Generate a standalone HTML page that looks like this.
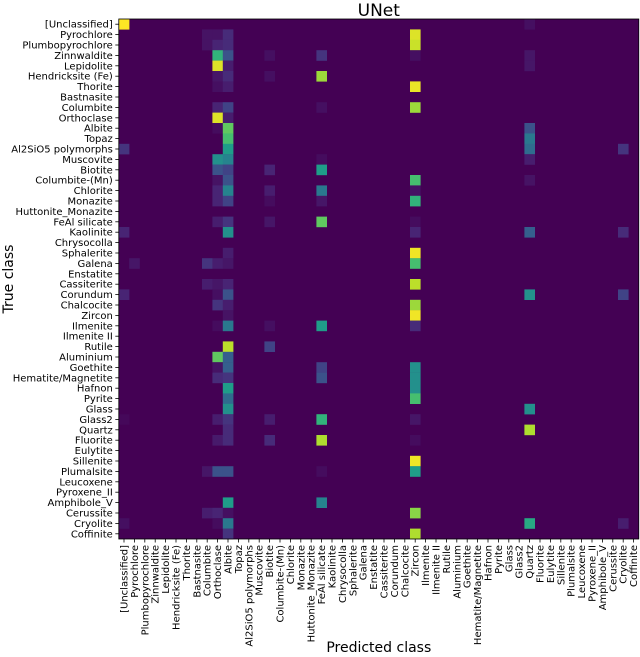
<!DOCTYPE html>
<html><head><meta charset="utf-8"><style>
body{margin:0;background:#fff;width:640px;height:657px;overflow:hidden}
svg{display:block;font-family:"DejaVu Sans","Liberation Sans",sans-serif}
</style></head><body>
<svg id="c" width="640" height="657" xmlns="http://www.w3.org/2000/svg"></svg>
<script>
const classes=["[Unclassified]","Pyrochlore","Plumbopyrochlore","Zinnwaldite","Lepidolite","Hendricksite (Fe)","Thorite","Bastnasite","Columbite","Orthoclase","Albite","Topaz","Al2SiO5 polymorphs","Muscovite","Biotite","Columbite-(Mn)","Chlorite","Monazite","Huttonite_Monazite","FeAl silicate","Kaolinite","Chrysocolla","Sphalerite","Galena","Enstatite","Cassiterite","Corundum","Chalcocite","Zircon","Ilmenite","Ilmenite II","Rutile","Aluminium","Goethite","Hematite/Magnetite","Hafnon","Pyrite","Glass","Glass2","Quartz","Fluorite","Eulytite","Sillenite","Plumalsite","Leucoxene","Pyroxene_II","Amphibole_V","Cerussite","Cryolite","Coffinite"];
// sparse cells: [trueRow, predCol, value 0..1]
const cellRows=[0,1,1,1,1,0,2,2,2,2,3,3,3,3,3,3,4,4,4,5,5,5,5,6,6,6,8,8,8,8,9,9,10,10,10,11,11,12,12,12,12,13,13,13,13,14,14,14,14,15,15,15,15,16,16,16,16,16,17,17,17,17,17,19,19,19,19,19,20,20,20,20,20,22,22,23,23,23,23,23,25,25,25,25,26,26,26,26,26,27,27,27,28,28,29,29,29,29,29,31,31,32,32,33,33,33,33,34,34,34,34,35,35,36,36,37,37,38,38,38,38,38,38,39,39,40,40,40,40,40,42,43,43,43,43,43,46,46,47,47,47,47,48,48,48,48,48,49,49];
const cellCols=[0,8,9,10,28,39,8,9,10,28,9,10,14,19,28,39,9,10,39,9,10,14,19,9,10,28,9,10,19,28,9,10,9,10,39,10,39,0,10,39,48,9,10,19,39,9,10,14,19,9,10,28,39,9,10,14,19,28,9,10,14,19,28,9,10,14,19,28,0,10,28,39,48,10,28,1,8,9,10,28,8,9,10,28,0,9,10,39,48,9,10,28,10,28,9,10,14,19,28,10,14,9,10,9,10,19,28,9,10,19,28,10,28,10,28,10,39,0,9,10,14,19,28,10,39,9,10,14,19,28,28,8,9,10,19,28,10,19,8,9,10,28,0,9,10,39,48,10,28];
const cellVals=[1.0,0.05,0.05,0.12,0.95,0.04,0.05,0.1,0.12,0.92,0.65,0.25,0.04,0.15,0.04,0.06,0.95,0.08,0.06,0.06,0.12,0.04,0.85,0.04,0.08,0.97,0.1,0.2,0.04,0.85,0.95,0.08,0.03,0.75,0.25,0.7,0.4,0.15,0.55,0.35,0.15,0.5,0.45,0.03,0.08,0.25,0.2,0.1,0.55,0.05,0.25,0.7,0.05,0.1,0.45,0.08,0.4,0.05,0.1,0.2,0.03,0.06,0.65,0.08,0.15,0.06,0.75,0.03,0.1,0.5,0.1,0.3,0.12,0.08,0.98,0.06,0.15,0.08,0.06,0.7,0.08,0.06,0.1,0.9,0.1,0.04,0.25,0.5,0.2,0.15,0.08,0.85,0.05,0.98,0.03,0.4,0.04,0.55,0.12,0.9,0.2,0.75,0.3,0.05,0.3,0.2,0.5,0.12,0.15,0.25,0.5,0.55,0.5,0.35,0.7,0.5,0.5,0.02,0.08,0.15,0.08,0.65,0.06,0.12,0.88,0.07,0.12,0.12,0.88,0.03,0.98,0.06,0.25,0.25,0.03,0.55,0.55,0.45,0.08,0.1,0.04,0.82,0.04,0.03,0.4,0.6,0.08,0.15,0.88];

const NS="http://www.w3.org/2000/svg",svg=document.getElementById('c');
const L=118.8,T=19,S=10.4,N=classes.length;
const xPos=c=>L+c*S, yPos=r=>T+r*S;
const stops=[[68,1,84],[72,40,120],[62,74,137],[49,104,142],[38,130,142],[31,158,137],[53,183,121],[110,206,88],[181,222,43],[253,231,37]];
function viridis(v){v=Math.max(0,Math.min(1,v))*(stops.length-1);const i=Math.min(Math.floor(v),stops.length-2),f=v-i;const a=stops[i],b=stops[i+1];return `rgb(${a.map((x,k)=>Math.round(x+(b[k]-x)*f)).join(',')})`;}
function mk(t,a){const e=document.createElementNS(NS,t);for(const k in a)e.setAttribute(k,a[k]);svg.appendChild(e);return e;}
const bg=mk('rect',{x:L,y:T,width:N*S,height:N*S,fill:viridis(0)});


for(let i=0;i<cellVals.length;i++){
  const r=mk('rect',{x:xPos(cellCols[i]),y:yPos(cellRows[i]),width:S+0.2,height:S+0.2,fill:viridis(cellVals[i])});
  
  
}
const fr=mk('rect',{x:L,y:T,width:N*S,height:N*S,fill:'none',stroke:'#000','stroke-width':0.8});


classes.forEach((c,i)=>{
  const y=yPos(i)+S/2;
  const tk=mk('line',{x1:L-3.5,x2:L,y1:y,y2:y,stroke:'#000','stroke-width':0.8});
  
  
  const t=mk('text',{x:L-6,y:y+3.5,'font-size':10,'text-anchor':'end',fill:'#000'});
  t.textContent=c;
  
  
  const x=xPos(i)+S/2;
  const tk2=mk('line',{x1:x,x2:x,y1:T+N*S,y2:T+N*S+3.5,stroke:'#000','stroke-width':0.8});
  
  
  const t2=mk('text',{x:0,y:0,'font-size':10,'text-anchor':'end',fill:'#000',transform:`translate(${x+3.5},${T+N*S+6}) rotate(-90)`});
  t2.textContent=c;
  
  
});
const title=mk('text',{x:L+N*S/2,y:16,'font-size':17,'text-anchor':'middle',fill:'#000'});
title.textContent='UNet';


const xt=mk('text',{x:L+N*S/2,y:652,'font-size':14,'text-anchor':'middle',fill:'#000'});
xt.textContent='Predicted class';


const yt=mk('text',{x:0,y:0,'font-size':14,'text-anchor':'middle',fill:'#000',transform:`translate(13,${T+N*S/2}) rotate(-90)`});
yt.textContent='True class';


</script>
</body></html>
